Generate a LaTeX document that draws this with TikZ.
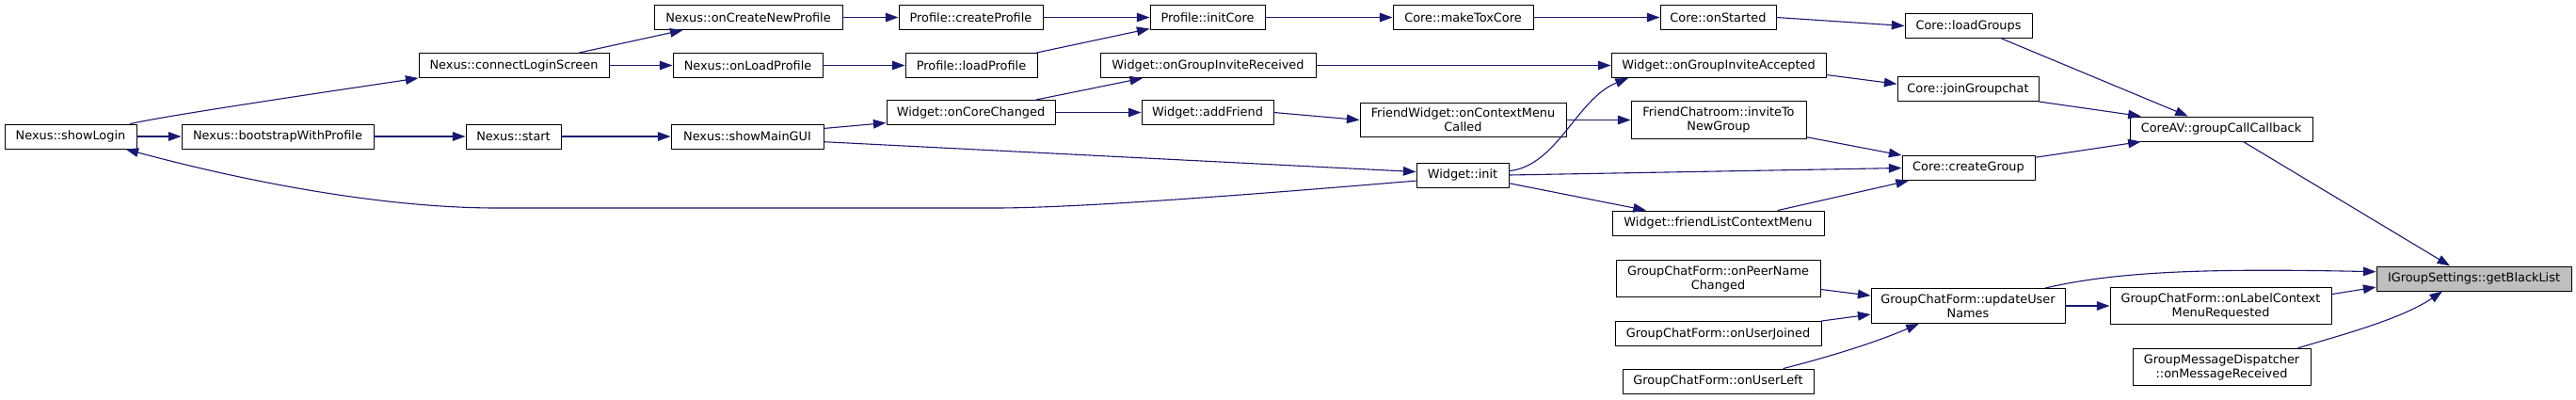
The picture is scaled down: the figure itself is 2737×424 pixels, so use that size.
\documentclass[tikz,border=0pt]{standalone}
\usepackage{fontspec}
\setmainfont{DejaVu Sans}
\usepackage{xcolor}
\usetikzlibrary{arrows.meta}
\definecolor{edgeblue}{HTML}{191970}

\begin{document}
\begin{tikzpicture}[x=0.5pt, y=-0.5pt, line cap=round, line join=round,
  fn/.style={draw=black, fill=white, line width=0.5pt, inner xsep=4pt, inner ysep=3pt,
    minimum width=#1, minimum height=13pt, align=center, font=\fontsize{6.44}{7.5}\selectfont},
  fn/.default=0pt,
  cur/.style={fn=#1, fill=black!25},
  call/.style={draw=edgeblue, line width=0.55pt, -{Triangle[length=6.8pt,width=4.8pt]}}]
\useasboundingbox (0,0) rectangle (2737,424);
\node[fn=70pt] (showLogin) at (75,145) {Nexus::showLogin};
\node[fn=102pt] (bootstrap) at (295,145) {Nexus::bootstrapWithProfile};
\node[fn=50.5pt] (start) at (545.5,145) {Nexus::start};
\node[fn=81pt] (showMainGUI) at (794,145) {Nexus::showMainGUI};
\node[fn=101pt] (connectLogin) at (546,69.5) {Nexus::connectLoginScreen};
\node[fn=100pt] (onCreateNewProfile) at (795,18.5) {Nexus::onCreateNewProfile};
\node[fn=79.5pt] (onLoadProfile) at (794.5,69.5) {Nexus::onLoadProfile};
\node[fn=76.5pt] (createProfile) at (1031.5,18.5) {Profile::createProfile};
\node[fn=70pt] (loadProfile) at (1032,69.5) {Profile::loadProfile};
\node[fn=61pt] (initCore) at (1283,18.5) {Profile::initCore};
\node[fn=74.5pt] (makeToxCore) at (1554.5,18.5) {Core::makeToxCore};
\node[fn=61.5pt] (onStarted) at (1825.5,18.5) {Core::onStarted};
\node[fn=67.5pt] (loadGroups) at (2091.5,27.5) {Core::loadGroups};
\node[fn=114.5pt] (inviteReceived) at (1283.5,69.5) {Widget::onGroupInviteReceived};
\node[fn=114pt] (inviteAccepted) at (1826,69.5) {Widget::onGroupInviteAccepted};
\node[fn=75pt] (joinGroupchat) at (2091,94.5) {Core::joinGroupchat};
\node[fn=89.5pt] (onCoreChanged) at (1031.5,119.5) {Widget::onCoreChanged};
\node[fn=70pt] (addFriend) at (1283,119.5) {Widget::addFriend};
\node[fn=109.5pt] (contextMenuCalled) at (1554.5,127.5) {FriendWidget::onContextMenu\\Called};
\node[fn=93pt] (inviteToNewGroup) at (1826,127.5) {FriendChatroom::inviteTo\\NewGroup};
\node[fn=97pt] (groupCallCallback) at (2360,137) {CoreAV::groupCallCallback};
\node[fn=49pt] (widgetInit) at (1554,186) {Widget::init};
\node[fn=70.5pt] (createGroup) at (2091.5,178.5) {Core::createGroup};
\node[fn=112.5pt] (friendListMenu) at (1825.5,237) {Widget::friendListContextMenu};
\node[fn=108.5pt] (peerNameChanged) at (1825.5,296) {GroupChatForm::onPeerName\\Changed};
\node[fn=109.5pt] (userJoined) at (1825.5,354.5) {GroupChatForm::onUserJoined};
\node[fn=101.5pt] (userLeft) at (1825.5,405) {GroupChatForm::onUserLeft};
\node[fn=103pt] (updateUserNames) at (2091,325) {GroupChatForm::updateUser\\Names};
\node[fn=117.5pt] (labelMenu) at (2359.5,325) {GroupChatForm::onLabelContext\\MenuRequested};
\node[fn=94.5pt] (messageReceived) at (2360.5,390) {GroupMessageDispatcher\\::onMessageReceived};
\node[cur=103.5pt] (getBlackList) at (2628.5,296) {IGroupSettings::getBlackList};
\draw[call] (showLogin) -- (bootstrap);
\draw[call] (showLogin.12) .. controls (180,122) and (385,92) .. (connectLogin.south west);
\draw[call] (bootstrap) -- (start);
\draw[call] (start) -- (showMainGUI);
\draw[call] (connectLogin.11) -- (onCreateNewProfile.191);
\draw[call] (connectLogin) -- (onLoadProfile);
\draw[call] (onCreateNewProfile) -- (createProfile);
\draw[call] (onLoadProfile) -- (loadProfile);
\draw[call] (createProfile) -- (initCore);
\draw[call] (loadProfile.11) -- (initCore.191);
\draw[call] (initCore) -- (makeToxCore);
\draw[call] (makeToxCore) -- (onStarted);
\draw[call] (onStarted.east) -- (loadGroups.west);
\draw[call] (loadGroups.339) -- (groupCallCallback.159);
\draw[call] (showMainGUI.6) -- (onCoreChanged.187);
\draw[call] (showMainGUI.356) -- (widgetInit.176);
\draw[call] (onCoreChanged.11) -- (inviteReceived.191);
\draw[call] (onCoreChanged) -- (addFriend);
\draw[call] (addFriend.east) -- (contextMenuCalled.west);
\draw[call] (contextMenuCalled) -- (inviteToNewGroup);
\draw[call] (inviteReceived) -- (inviteAccepted);
\draw[call] (widgetInit.5) .. controls (1655,176) and (1675,105) .. (inviteAccepted.188);
\draw[call] (widgetInit.east) -- (createGroup.west);
\draw[call] (widgetInit.350) -- (friendListMenu.170);
\draw[call] (widgetInit.187) .. controls (1350,205) and (1150,221) .. (1057,221)
  -- (528,221) .. controls (400,221) and (250,190) .. (showLogin.347);
\draw[call] (inviteToNewGroup.349) -- (createGroup.north west);
\draw[call] (friendListMenu.12) -- (createGroup.192);
\draw[call] (inviteAccepted.355) -- (joinGroupchat.176);
\draw[call] (joinGroupchat.south east) -- (groupCallCallback.171);
\draw[call] (createGroup.9) -- (groupCallCallback.189);
\draw[call] (groupCallCallback.330) -- (getBlackList.152);
\draw[call] (updateUserNames.13) .. controls (2250,288) and (2350,285) .. (getBlackList.176);
\draw[call] (updateUserNames) -- (labelMenu);
\draw[call] (labelMenu.6) -- (getBlackList.185);
\draw[call] (messageReceived.14) .. controls (2480,358) and (2550,340) .. (getBlackList.202);
\draw[call] (peerNameChanged.354) -- (updateUserNames.174);
\draw[call] (userJoined.north east) -- (updateUserNames.185);
\draw[call] (userLeft.11) .. controls (1940,380) and (1990,365) .. (updateUserNames.200);
\end{tikzpicture}
\end{document}
